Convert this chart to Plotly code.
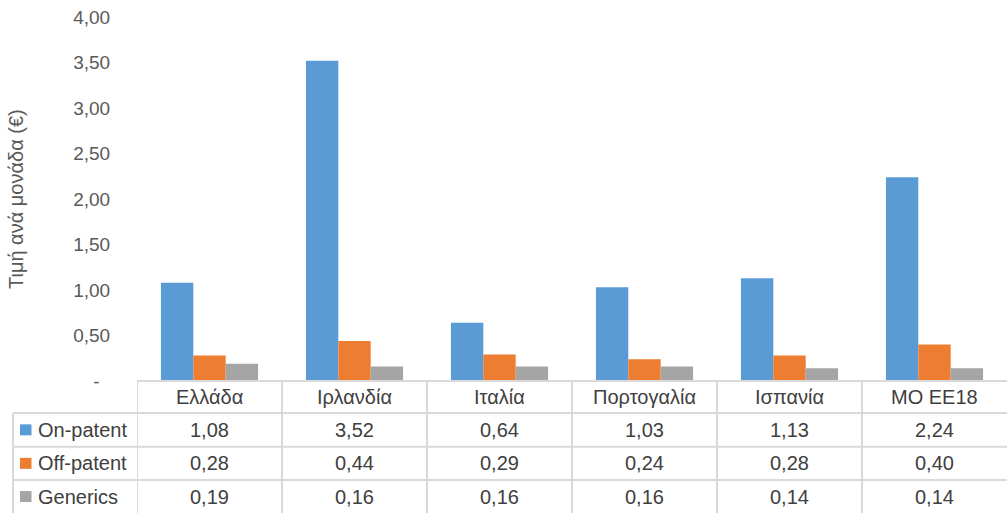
import plotly.graph_objects as go

# Unit prices (€) by country and product category
countries = ["Ελλάδα", "Ιρλανδία", "Ιταλία", "Πορτογαλία", "Ισπανία", "ΜΟ ΕΕ18"]
on_patent = [1.08, 3.52, 0.64, 1.03, 1.13, 2.24]
off_patent = [0.28, 0.44, 0.29, 0.24, 0.28, 0.40]
generics = [0.19, 0.16, 0.16, 0.16, 0.14, 0.14]

series_names = ["On-patent", "Off-patent", "Generics"]
series_values = [on_patent, off_patent, generics]
series_colors = ["#5B9BD5", "#ED7D31", "#A5A5A5"]

y_ticks = [0, 0.5, 1.0, 1.5, 2.0, 2.5, 3.0, 3.5, 4.0]

W, H = 1007, 513
FONT = "Liberation Sans, Arial, sans-serif"
TXT = "#404040"
GRID = "#D9D9D9"
FS = 20


def fmt(v):
    return f"{v:.2f}".replace(".", ",")


def py(y):
    return 1 - y / H


def px(x):
    return x / W


fig = go.Figure()
for name, vals, col in zip(series_names, series_values, series_colors):
    fig.add_trace(go.Bar(x=countries, y=vals, name=name, marker_color=col,
                         marker_line_width=0, showlegend=False))

# plot area geometry (pixels)
plot_left, plot_top, plot_bottom = 137, 17, 381
row_edges = [381, 413, 446.7, 480, 513]

shapes = []
annotations = []

# table: horizontal rules
shapes.append(dict(type="line", xref="paper", yref="paper",
                   x0=px(plot_left), x1=1, y0=py(row_edges[0]), y1=py(row_edges[0]),
                   line=dict(color=GRID, width=2)))
for ye in row_edges[1:4]:
    shapes.append(dict(type="line", xref="paper", yref="paper",
                       x0=px(13), x1=1, y0=py(ye), y1=py(ye),
                       line=dict(color=GRID, width=2)))
# table: vertical rules
shapes.append(dict(type="line", xref="paper", yref="paper",
                   x0=px(13), x1=px(13), y0=py(row_edges[1]), y1=0,
                   line=dict(color=GRID, width=2)))
for i in range(len(countries)):
    shapes.append(dict(type="line", xref="x", yref="paper",
                       x0=i - 0.5, x1=i - 0.5, y0=py(row_edges[0]), y1=0,
                       line=dict(color=GRID, width=2)))

# header row: category names
hdr_y = py((row_edges[0] + row_edges[1]) / 2)
for c in countries:
    annotations.append(dict(x=c, y=hdr_y, xref="x", yref="paper", text=c,
                            showarrow=False, xanchor="center", yanchor="middle",
                            font=dict(family=FONT, size=FS, color=TXT)))

# data rows with legend keys
for r, (name, vals, col) in enumerate(zip(series_names, series_values, series_colors)):
    yc = (row_edges[r + 1] + row_edges[r + 2]) / 2
    shapes.append(dict(type="rect", xref="paper", yref="paper",
                       x0=px(20), x1=px(31.5), y0=py(yc - 5.5), y1=py(yc + 5.5),
                       fillcolor=col, line=dict(width=0)))
    annotations.append(dict(x=px(35.5), y=py(yc), xref="paper", yref="paper", text=name,
                            showarrow=False, xanchor="left", yanchor="middle",
                            font=dict(family=FONT, size=FS, color=TXT)))
    for c, v in zip(countries, vals):
        annotations.append(dict(x=c, y=py(yc), xref="x", yref="paper", text=fmt(v),
                                showarrow=False, xanchor="center", yanchor="middle",
                                font=dict(family=FONT, size=FS, color=TXT)))

# y-axis title
annotations.append(dict(x=px(16), y=py((plot_top + plot_bottom) / 2), xref="paper", yref="paper",
                        text="Τιμή ανά μονάδα (€)", textangle=-90, showarrow=False,
                        xanchor="center", yanchor="middle",
                        font=dict(family=FONT, size=FS, color="#595959")))

fig.update_layout(
    width=W, height=H,
    margin=dict(l=0, r=0, t=0, b=0, autoexpand=False),
    paper_bgcolor="white", plot_bgcolor="white",
    barmode="group", bargap=0.33, bargroupgap=0,
    font=dict(family=FONT, size=FS, color="#595959"),
    xaxis=dict(domain=[px(plot_left), 1], range=[-0.5, len(countries) - 0.5],
               showticklabels=False, showgrid=False, zeroline=False, showline=False,
               ticks="", automargin=False),
    yaxis=dict(domain=[py(plot_bottom), py(plot_top)], range=[0, 4.0],
               tickvals=y_ticks,
               ticktext=["-\u00a0\u00a0"] + [fmt(v) for v in y_ticks[1:]],
               showgrid=False, zeroline=False, showline=False,
               ticks="outside", ticklen=22, tickcolor="rgba(0,0,0,0)",
               automargin=False,
               tickfont=dict(family=FONT, size=19, color="#595959")),
    shapes=shapes,
    annotations=annotations,
)

fig.write_html("out.html")
